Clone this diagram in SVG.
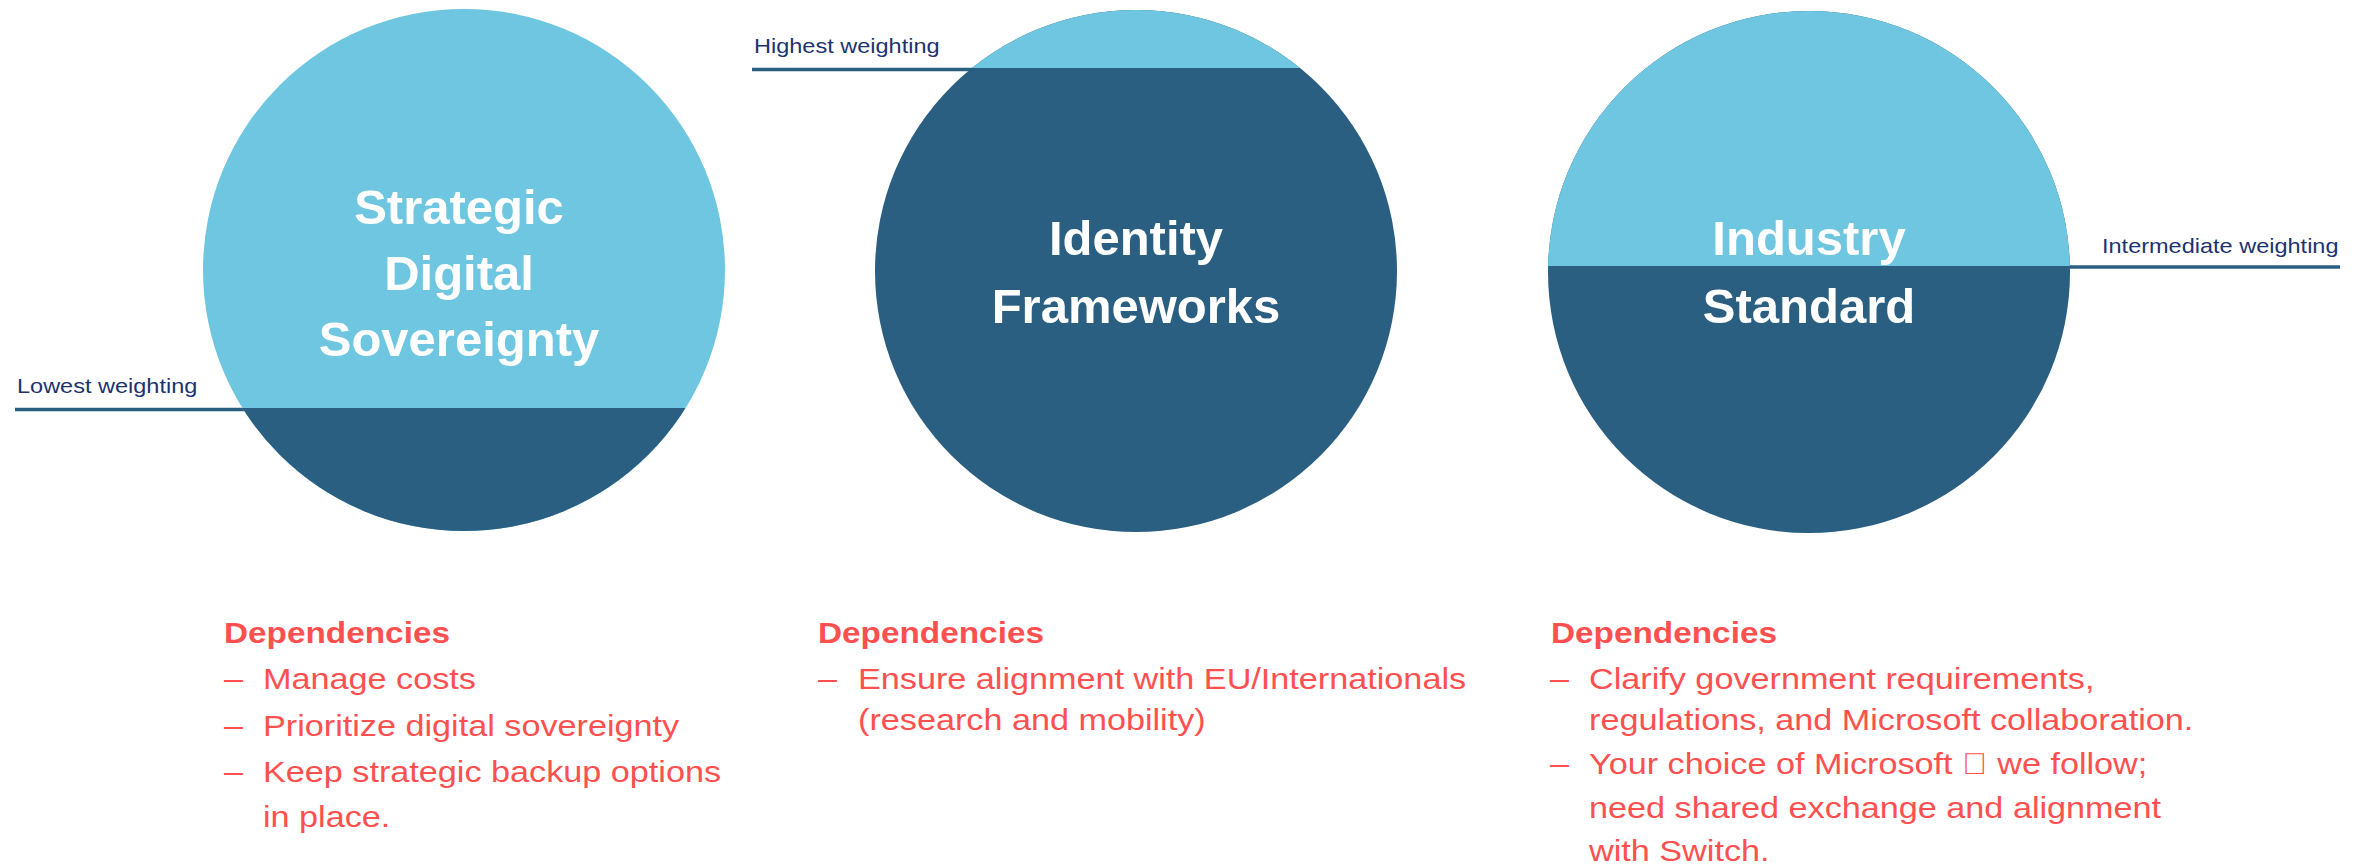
<svg xmlns="http://www.w3.org/2000/svg" width="2361" height="865" viewBox="0 0 2361 865">
<style>
.light{fill:#6EC6E1}
.dark{fill:#2A5F82}
.title{font-family:"Liberation Sans",Arial,sans-serif;font-weight:bold;font-size:49px;fill:#FFFFFF;text-anchor:middle}
.lbl{font-family:"Liberation Sans",Arial,sans-serif;font-size:21px;fill:#1D3370}
.lead{stroke:#2A5F82;stroke-width:3.5;fill:none}
.head{font-family:"Liberation Sans",Arial,sans-serif;font-weight:bold;font-size:29.5px;fill:#FF5050}
.body{font-family:"Liberation Sans",Arial,sans-serif;font-size:30px;fill:#FF5050}
</style>
<defs>
<clipPath id="c1"><circle cx="464" cy="270" r="261"/></clipPath>
<clipPath id="c2"><circle cx="1136" cy="271" r="261"/></clipPath>
<clipPath id="c3"><circle cx="1809" cy="272" r="261"/></clipPath>
</defs>
<rect width="2361" height="865" fill="#FFFFFF"/>

<g id="weighting-lines">
<line class="lead" x1="15" y1="409.5" x2="250" y2="409.5"/>
<line class="lead" x1="752" y1="69.5" x2="980" y2="69.5"/>
<line class="lead" x1="2060" y1="267" x2="2340" y2="267"/>
</g>

<g id="node-strategic-digital-sovereignty">
<circle class="light" cx="464" cy="270" r="261"/>
<rect class="dark" x="190" y="408" width="560" height="140" clip-path="url(#c1)"/>
<text class="title" x="459" y="224">Strategic</text>
<text class="title" x="459" y="290">Digital</text>
<text class="title" x="459" y="356">Sovereignty</text>
</g>

<g id="node-identity-frameworks">
<circle class="dark" cx="1136" cy="271" r="261"/>
<rect class="light" x="860" y="0" width="560" height="68" clip-path="url(#c2)"/>
<text class="title" x="1136" y="255">Identity</text>
<text class="title" x="1136" y="323">Frameworks</text>
</g>

<g id="node-industry-standard">
<circle class="dark" cx="1809" cy="272" r="261"/>
<rect class="light" x="1530" y="0" width="560" height="266" clip-path="url(#c3)"/>
<text class="title" x="1809" y="255">Industry</text>
<text class="title" x="1809" y="323">Standard</text>
</g>

<g id="label-lowest">
<text class="lbl" transform="matrix(1.12 0 0 1 17 393)">Lowest weighting</text>
</g>
<g id="label-highest">
<text class="lbl" transform="matrix(1.12 0 0 1 754 53)">Highest weighting</text>
</g>
<g id="label-intermediate">
<text class="lbl" transform="matrix(1.12 0 0 1 2102 253)">Intermediate weighting</text>
</g>

<g id="deps-strategic">
<text class="head" transform="matrix(1.13 0 0 1 224 643)">Dependencies</text>
<text class="body" transform="matrix(1.14 0 0 1 224 689)">–</text>
<text class="body" transform="matrix(1.14 0 0 1 263 689)">Manage costs</text>
<text class="body" transform="matrix(1.14 0 0 1 224 736)">–</text>
<text class="body" transform="matrix(1.14 0 0 1 263 736)">Prioritize digital sovereignty</text>
<text class="body" transform="matrix(1.14 0 0 1 224 782)">–</text>
<text class="body" transform="matrix(1.14 0 0 1 263 782)">Keep strategic backup options</text>
<text class="body" transform="matrix(1.14 0 0 1 263 827)">in place.</text>
</g>

<g id="deps-identity">
<text class="head" transform="matrix(1.13 0 0 1 818 643)">Dependencies</text>
<text class="body" transform="matrix(1.14 0 0 1 818 689)">–</text>
<text class="body" transform="matrix(1.14 0 0 1 858 689)">Ensure alignment with EU/Internationals</text>
<text class="body" transform="matrix(1.14 0 0 1 858 730)">(research and mobility)</text>
</g>

<g id="deps-industry">
<text class="head" transform="matrix(1.13 0 0 1 1551 643)">Dependencies</text>
<text class="body" transform="matrix(1.14 0 0 1 1550 689)">–</text>
<text class="body" transform="matrix(1.14 0 0 1 1589 689)">Clarify government requirements,</text>
<text class="body" transform="matrix(1.14 0 0 1 1589 730)">regulations, and Microsoft collaboration.</text>
<text class="body" transform="matrix(1.14 0 0 1 1550 774)">–</text>
<text class="body" transform="matrix(1.14 0 0 1 1589 774)">Your choice of Microsoft &#xF0E0; we follow;</text>
<text class="body" transform="matrix(1.14 0 0 1 1589 818)">need shared exchange and alignment</text>
<text class="body" transform="matrix(1.14 0 0 1 1589 861)">with Switch.</text>
</g>
</svg>
